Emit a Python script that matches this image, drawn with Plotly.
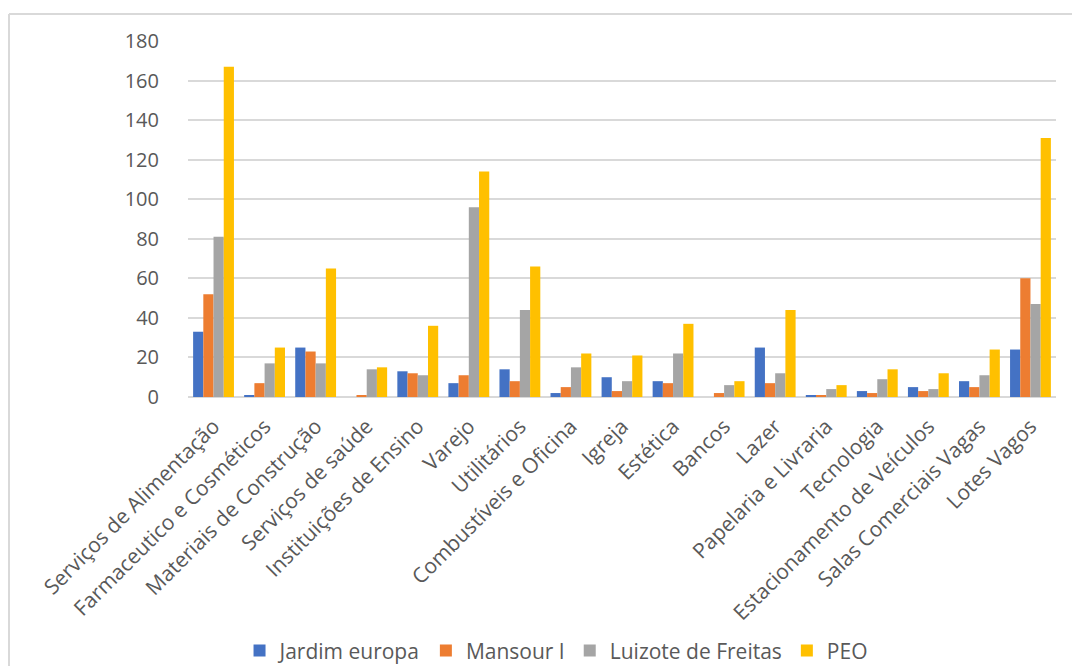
import plotly.graph_objects as go

categorias = [
    "Serviços de Alimentação", "Farmaceutico e Cosméticos", "Materiais de Construção",
    "Serviços de saúde", "Instituições de Ensino", "Varejo", "Utilitários",
    "Combustíveis e Oficina", "Igreja", "Estética", "Bancos", "Lazer",
    "Papelaria e Livraria", "Tecnologia", "Estacionamento de Veículos",
    "Salas Comerciais Vagas", "Lotes Vagos",
]

jardim_europa = [33, 1, 25, 0, 13, 7, 14, 2, 10, 8, 0, 25, 1, 3, 5, 8, 24]
mansour_i = [52, 7, 23, 1, 12, 11, 8, 5, 3, 7, 2, 7, 1, 2, 3, 5, 60]
luizote_de_freitas = [81, 17, 17, 14, 11, 96, 44, 15, 8, 22, 6, 12, 4, 9, 4, 11, 47]
peo = [167, 25, 65, 15, 36, 114, 66, 22, 21, 37, 8, 44, 6, 14, 12, 24, 131]

y_ticks = [0, 20, 40, 60, 80, 100, 120, 140, 160, 180]

series = [
    ("Jardim europa", jardim_europa, "#4472C4"),
    ("Mansour I", mansour_i, "#ED7D31"),
    ("Luizote de Freitas", luizote_de_freitas, "#A5A5A5"),
    ("PEO", peo, "#FFC000"),
]

FONT = "Open Sans"
TXT = "#595959"
GRID = "#D9D9D9"

fig = go.Figure()
for nome, valores, cor in series:
    fig.add_trace(go.Bar(
        name=nome, x=categorias, y=valores,
        marker=dict(color=cor, line=dict(width=0)),
    ))

fig.update_layout(
    width=1072, height=666,
    margin=dict(l=188, r=16, t=41, b=269, autoexpand=False),
    paper_bgcolor="white", plot_bgcolor="white",
    barmode="group", bargap=0.2, bargroupgap=0.0,
    font=dict(family=FONT, size=20, color=TXT),
    showlegend=True,
    legend=dict(
        orientation="h", x=0.424, xanchor="center", y=-0.713, yanchor="middle",
        font=dict(family=FONT, size=21, color=TXT),
        itemwidth=30, tracegroupgap=0,
    ),
    shapes=[
        dict(type="line", xref="paper", yref="paper", x0=-0.2062, x1=1.02,
             y0=1.0758, y1=1.0758, line=dict(color=GRID, width=2)),
        dict(type="line", xref="paper", yref="paper", x0=-0.2062, x1=-0.2062,
             y0=1.0758, y1=-0.76, line=dict(color=GRID, width=2)),
    ],
)

fig.update_xaxes(
    type="category", tickangle=-45, showgrid=False, showline=False,
    ticks="", ticklabelstandoff=12, automargin=False,
    tickfont=dict(family=FONT, size=21, color=TXT),
)
fig.update_yaxes(
    range=[0, 180], tickvals=y_ticks, showgrid=True, gridcolor=GRID, gridwidth=2,
    zeroline=True, zerolinecolor=GRID, zerolinewidth=2, showline=False,
    ticks="", ticklabelstandoff=28, automargin=False,
    tickfont=dict(family=FONT, size=20, color=TXT),
)

fig.write_html("out.html")
